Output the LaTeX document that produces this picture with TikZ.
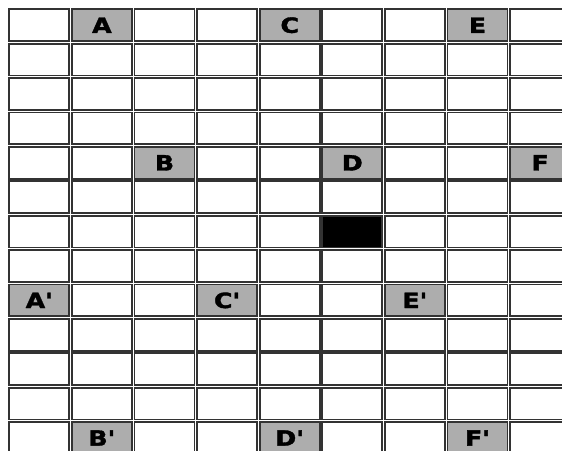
\documentclass[tikz,border=0pt]{standalone}
\usepackage{fontspec}
\setmainfont{DejaVu Sans}
\newfontfamily\heavyfont[BoldFeatures={FakeBold=1.6}]{DejaVu Sans}
\tikzset{
  cellbox/.style={draw=black!80, line width=1.7pt, fill=white},
  labelcell/.style={cellbox, fill=black!32},
  darkcell/.style={cellbox, fill=black},
  celltext/.style={font=\heavyfont\bfseries\fontsize{21}{21}\selectfont, text=black}
}
\newcommand{\cw}{62.6}
\newcommand{\ch}{34.4}
\newcommand{\pr}{\textquotesingle}
\begin{document}
\begin{tikzpicture}[x=1pt,y=-1pt]
\useasboundingbox (0,0) rectangle (562,450);
\clip (0,0) rectangle (562,450);
\fill[white] (0,0) rectangle (562,450);
% plain grid cells
\foreach \i in {0,...,8}{
  \foreach \j in {0,...,12}{
    \draw[cellbox] ({8+\cw*\i+1.3},{8+\ch*\j+1.3}) rectangle ({8+\cw*(\i+1)-1.3},{8+\ch*(\j+1)-1.3});
  }
}
% labelled cells
\foreach \i/\j/\t/\n in {1/0/A/a,4/0/C/c,7/0/E/e,2/4/B/b,5/4/D/d,8/4/F/f,0/8/A\pr/a2,3/8/C\pr/c2,6/8/E\pr/e2,1/12/B\pr/b2,4/12/D\pr/d2,7/12/F\pr/f2}{
  \draw[labelcell] ({8+\cw*\i+1.3},{8+\ch*\j+1.3}) rectangle ({8+\cw*(\i+1)-1.3},{8+\ch*(\j+1)-1.3});
  \node[celltext] (\n) at ({8+\cw*(\i+0.5)},{8+\ch*(\j+0.5)}) {\scalebox{1.2}[1]{\t}};
}
% black cell
\draw[darkcell] ({8+\cw*5+1.3},{8+\ch*6+1.3}) rectangle ({8+\cw*6-1.3},{8+\ch*7-1.3});
\end{tikzpicture}
\end{document}
